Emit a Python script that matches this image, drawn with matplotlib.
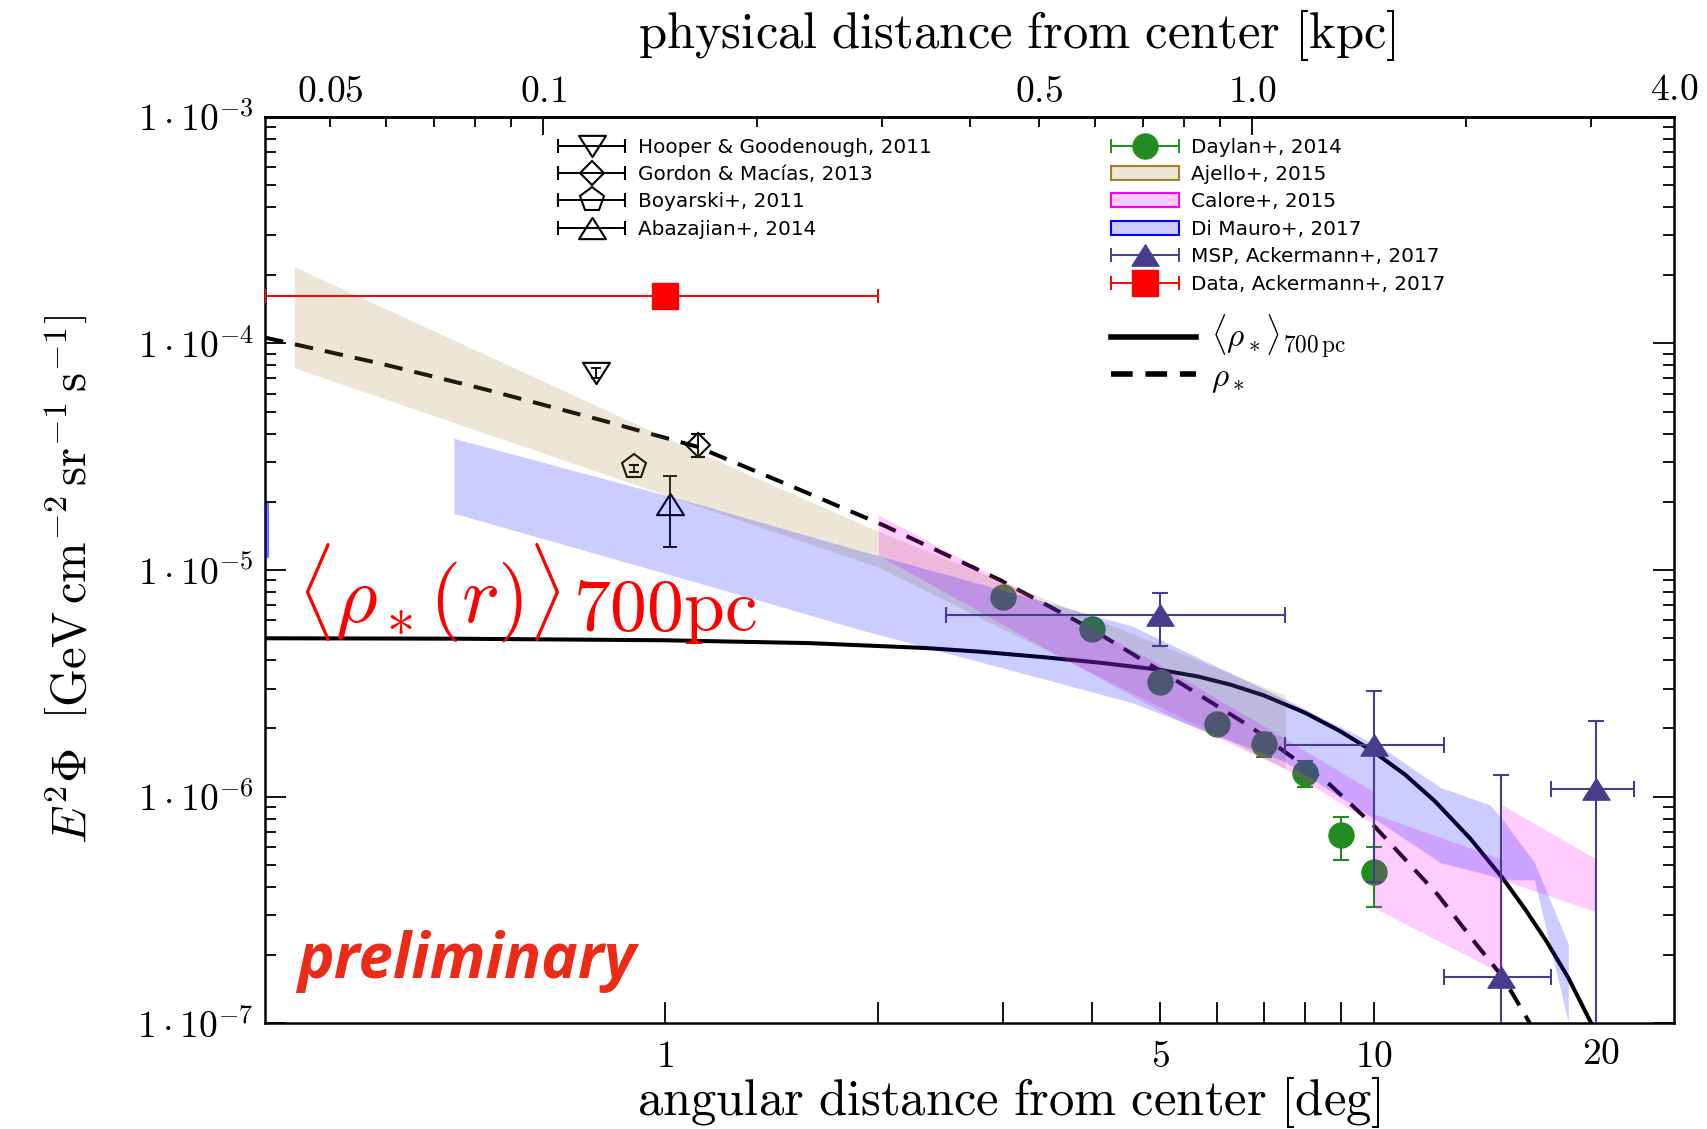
import numpy as np
import matplotlib
matplotlib.use("Agg")
import matplotlib.pyplot as plt
import matplotlib.transforms as mtransforms
from matplotlib.path import Path
from matplotlib.patches import Patch
from matplotlib.lines import Line2D
from matplotlib.container import ErrorbarContainer
from matplotlib.legend_handler import HandlerErrorbar
from matplotlib.ticker import FixedLocator, FuncFormatter, NullFormatter, LogLocator

plt.rcParams['mathtext.fontset'] = 'cm'
plt.rcParams['font.family'] = ['DejaVu Sans']

# ---------------- data ----------------
# stellar-density template rho_* (dashed) and its 700 pc average (solid)
rho_deg = [0.273, 0.4, 0.554, 0.81, 1.11, 1.5, 2.03, 2.97, 3.98, 5.16, 6.69,
           8.67, 10.03, 12.3, 14.0, 15.2, 16.6]
rho_flux = [1.06e-4, 8.1e-5, 6.3e-5, 4.6e-5, 3.5e-5, 2.36e-5, 1.58e-5, 9.03e-6,
            5.53e-6, 3.38e-6, 2.04e-6, 1.13e-6, 7.38e-7, 3.7e-7, 2.2e-7, 1.6e-7, 1.0e-7]
avg_deg = [0.273, 0.5, 1.0, 1.6, 2.33, 2.79, 3.44, 4.11, 4.99, 5.65, 6.28, 6.99, 7.99,
           8.95, 9.99, 11.07, 12.18, 13.68, 15.16, 16.33, 17.52, 18.82, 20.26]
avg_flux = [5.0e-6, 4.98e-6, 4.9e-6, 4.76e-6, 4.53e-6, 4.36e-6, 4.12e-6, 3.9e-6, 3.63e-6,
            3.39e-6, 3.12e-6, 2.8e-6, 2.35e-6, 1.95e-6, 1.58e-6, 1.25e-6, 9.58e-7,
            6.53e-7, 4.41e-7, 3.2e-7, 2.3e-7, 1.58e-7, 1.0e-7]

# Ajello+ 2015 band
aj_deg = [0.30, 1.08, 2.0, 7.5]
aj_hi = [2.18e-4, 3.45e-5, 1.48e-5, 2.8e-6]
aj_lo = [7.8e-5, 1.98e-5, 1.03e-5, 1.33e-6]

# Calore+ 2015 band
cal_deg = [2.0, 3.45, 5.0, 7.5, 10.0, 10.0, 15.16, 15.16, 20.6]
cal_hi = [1.75e-5, 7.1e-6, 3.8e-6, 1.8e-6, 1.05e-6, 8.4e-7, 5.3e-7, 9.2e-7, 5.3e-7]
cal_lo = [1.165e-5, 4.5e-6, 2.38e-6, 1.33e-6, 7.57e-7, 3.24e-7, 1.66e-7, 4.3e-7, 3.1e-7]

# Di Mauro+ 2017 band
dm_deg = [0.504, 1.085, 1.88, 4.56, 7.48, 10.29, 12.4, 14.58, 15.16, 16.84, 18.8]
dm_hi = [3.81e-5, 2.0e-5, 1.22e-5, 5.66e-6, 2.7e-6, 1.64e-6, 1.1e-6, 9.2e-7, 8.0e-7,
         5.13e-7, 2.24e-7]
dm_lo = [1.78e-5, 9.0e-6, 5.47e-6, 2.6e-6, 1.43e-6, 7.57e-7, 5.13e-7, 4.5e-7, 4.3e-7,
         4.3e-7, 1.01e-7]
dm_edge_deg = [0.265, 0.2765]
dm_edge_hi = [1.97e-5, 1.97e-5]
dm_edge_lo = [1.13e-5, 1.13e-5]

# Daylan+ 2014
day_deg = [3, 4, 5, 6, 7, 8, 9, 10]
day_flux = [7.57e-6, 5.52e-6, 3.22e-6, 2.09e-6, 1.71e-6, 1.27e-6, 6.76e-7, 4.65e-7]
day_lo = [7.1e-6, 5.2e-6, 3.0e-6, 1.9e-6, 1.5e-6, 1.1e-6, 5.26e-7, 3.27e-7]
day_hi = [8.0e-6, 5.85e-6, 3.45e-6, 2.3e-6, 1.91e-6, 1.44e-6, 8.18e-7, 6.01e-7]

# MSP, Ackermann+ 2017
msp_deg = [5.0, 10.0, 15.1, 20.6]
msp_deg_lo = [2.49, 7.5, 12.56, 17.8]
msp_deg_hi = [7.48, 12.56, 17.8, 23.3]
msp_flux = [6.34e-6, 1.69e-6, 1.61e-7, 1.08e-6]
msp_lo = [4.61e-6, 4.19e-7, 1.0e-9, 1.0e-9]
msp_hi = [7.92e-6, 2.94e-6, 1.25e-6, 2.16e-6]

# Data, Ackermann+ 2017
data_deg = [1.0]
data_deg_lo = [0.273]
data_deg_hi = [2.0]
data_flux = [1.62e-4]

# earlier analyses
hooper_deg, hooper_flux, hooper_lo, hooper_hi = [0.80], [7.41e-5], [7.0e-5], [7.76e-5]
gordon_deg, gordon_flux, gordon_lo, gordon_hi = [1.112], [3.56e-5], [3.16e-5], [3.97e-5]
boy_deg, boy_flux, boy_lo, boy_hi = [0.906], [2.84e-5], [2.7e-5], [2.92e-5]
aba_deg, aba_flux, aba_lo, aba_hi = [1.017], [1.96e-5], [1.26e-5], [2.60e-5]

x_ticks = [1, 2, 3, 4, 5, 6, 7, 8, 9, 10]
x_ticklabels = {1: '1', 5: '5', 10: '10'}
kpc_major = [0.1, 1.0]
kpc_minor = [0.05, 0.06, 0.07, 0.08, 0.09, 0.2, 0.3, 0.4, 0.5, 0.6, 0.7, 0.8, 0.9, 2.0, 3.0]
kpc_minor_labels = {0.05: '0.05', 0.5: '0.5'}

R_SUN = 8.5  # kpc


def deg2kpc(d):
    return np.radians(d) * R_SUN


def kpc2deg(r):
    return np.degrees(np.asarray(r) / R_SUN)


def asym(v, lo, hi):
    v = np.asarray(v)
    return [v - np.asarray(lo), np.asarray(hi) - v]


# wide triangle markers
tri_up = Path([(0, 0.79), (-1, -0.79), (1, -0.79), (0, 0.79)],
              [Path.MOVETO, Path.LINETO, Path.LINETO, Path.CLOSEPOLY])
tri_dn = Path([(0, -0.79), (-1, 0.79), (1, 0.79), (0, -0.79)],
              [Path.MOVETO, Path.LINETO, Path.LINETO, Path.CLOSEPOLY])

MSP_C = '#483d8b'
TAN = '#9e8533'
TICK_FS = 27

fig = plt.figure(figsize=(17.08, 11.29), dpi=100)
ax = fig.add_axes([0.1552, 0.0935, 0.8249, 0.8032])
ax.set_xscale('log')
ax.set_yscale('log')
ax.set_xlim(0.273, 26.5)
ax.set_ylim(1e-7, 1e-3)

# template curves
ax.plot(avg_deg, avg_flux, color='k', lw=2.9, zorder=1.5, solid_joinstyle='round')
ax.plot(rho_deg, rho_flux, color='k', lw=2.9, dashes=(4.6, 3.0), zorder=1.5)

# point measurements lying under the bands
ax.errorbar(day_deg, day_flux, yerr=asym(day_flux, day_lo, day_hi), fmt='o',
            color='forestgreen', ms=18, capsize=5.5, elinewidth=1.5, capthick=1.5, zorder=2)
open_kw = dict(mfc='none', mec='k', mew=1.5, color='k', elinewidth=1.3, capthick=1.3, zorder=2)
ax.errorbar(hooper_deg, hooper_flux, yerr=asym(hooper_flux, hooper_lo, hooper_hi),
            fmt='none', ecolor='k', capsize=3.5, elinewidth=1.3, capthick=1.3, zorder=2)
ax.plot(hooper_deg, hooper_flux, ls='none', marker=tri_dn, ms=19.4, mfc='none', mec='k',
        mew=1.5, zorder=2)
ax.errorbar(gordon_deg, gordon_flux, yerr=asym(gordon_flux, gordon_lo, gordon_hi),
            fmt='D', ms=12.5, capsize=4.8, **open_kw)
ax.errorbar(boy_deg, boy_flux, yerr=asym(boy_flux, boy_lo, boy_hi),
            fmt='p', ms=18.2, capsize=3.5, **open_kw)
ax.errorbar(aba_deg, aba_flux, yerr=asym(aba_flux, aba_lo, aba_hi),
            fmt='none', ecolor='k', capsize=5.3, elinewidth=1.3, capthick=1.3, zorder=2)
ax.plot(aba_deg, aba_flux, ls='none', marker=tri_up, ms=19.4, mfc='none', mec='k',
        mew=1.5, zorder=2)

# bands
ax.fill_between(aj_deg, aj_lo, aj_hi, color=TAN, alpha=0.2, lw=0, zorder=3)
ax.fill_between(cal_deg, cal_lo, cal_hi, color='magenta', alpha=0.2, lw=0, zorder=3)
ax.fill_between(dm_deg, dm_lo, dm_hi, color='blue', alpha=0.2, lw=0, zorder=3)
ax.fill_between(dm_edge_deg, dm_edge_lo, dm_edge_hi, color='blue', alpha=0.55, lw=0, zorder=3)

# Fermi-LAT points on top
ax.errorbar(msp_deg, msp_flux,
            xerr=asym(msp_deg, msp_deg_lo, msp_deg_hi), yerr=asym(msp_flux, msp_lo, msp_hi),
            fmt='none', ecolor=MSP_C, capsize=5.5, elinewidth=1.5, capthick=1.5, zorder=4)
ax.plot(msp_deg, msp_flux, ls='none', marker=tri_up, ms=19.4, color=MSP_C, zorder=4.1)
ax.errorbar(data_deg, data_flux, xerr=asym(data_deg, data_deg_lo, data_deg_hi), fmt='s',
            color='red', ms=18.5, capsize=5, elinewidth=1.4, capthick=1.4, zorder=4)

# ---------------- axes styling ----------------
for s in ax.spines.values():
    s.set_linewidth(1.8)
ax.xaxis.set_major_locator(FixedLocator(x_ticks))
ax.xaxis.set_major_formatter(FuncFormatter(
    lambda v, p: r'$%s$' % x_ticklabels[int(round(v))] if int(round(v)) in x_ticklabels else ''))
ax.xaxis.set_minor_locator(FixedLocator([]))
ax.yaxis.set_major_locator(LogLocator(base=10, numticks=10))
ax.yaxis.set_minor_locator(LogLocator(base=10, subs=np.arange(2, 10), numticks=20))
ax.yaxis.set_major_formatter(FuncFormatter(lambda v, p: r'$1\cdot10^{%d}$' % int(round(np.log10(v)))))
ax.yaxis.set_minor_formatter(NullFormatter())
ax.tick_params(axis='both', which='both', direction='in', top=False, right=True, width=1.3)
ax.tick_params(axis='x', which='major', length=15, pad=11, labelsize=TICK_FS)
ax.tick_params(axis='y', which='major', length=15, pad=8, labelsize=TICK_FS)
ax.tick_params(axis='y', which='minor', length=8)

trans = mtransforms.blended_transform_factory(ax.transData, ax.transAxes)
ax.text(20.9, -0.034, r'$20$', transform=trans, ha='center', va='center', fontsize=TICK_FS)

secax = ax.secondary_xaxis('top', functions=(deg2kpc, kpc2deg))
secax.set_xticks(kpc_major)
secax.set_xticklabels([r'$0.1$', r'$1.0$'])
secax.xaxis.set_minor_locator(FixedLocator(kpc_minor))
secax.xaxis.set_minor_formatter(FuncFormatter(
    lambda v, p: next((r'$%s$' % t for k, t in kpc_minor_labels.items() if abs(v - k) < 1e-6), '')))
secax.tick_params(axis='x', which='major', direction='in', length=13, width=1.3, pad=5,
                  labelsize=TICK_FS)
secax.tick_params(axis='x', which='minor', direction='in', length=7, width=1.3, pad=5,
                  labelsize=TICK_FS)
secax.spines['top'].set_linewidth(1.8)
ax.text(1.0, 1.0 + 27 / 906.8, r'$4.0$', transform=ax.transAxes, ha='center', va='center',
        fontsize=TICK_FS)

ax.set_xlabel(r'$\mathrm{angular\ distance\ from\ center\ [deg]}$', fontsize=36.5)
ax.xaxis.set_label_coords(0.528, -0.087)
ax.xaxis.label.set_verticalalignment('center')
ax.text(0.534, 1.0901, r'$\mathrm{physical\ distance\ from\ center\ [kpc]}$',
        transform=ax.transAxes, fontsize=36.5, ha='center', va='center')
ax.set_ylabel(r'$E^2\Phi\ \ \left[\mathrm{GeV\,cm^{-2}\,sr^{-1}\,s^{-1}}\right]$', fontsize=35)
ax.yaxis.set_label_coords(-0.137, 0.49)
ax.yaxis.label.set_verticalalignment('center')

# annotations
rho_txt = ax.text(0.0227, 0.4739, r'$\langle\rho_*(r)\rangle$', transform=ax.transAxes,
                  color='red', fontsize=58, ha='left', va='center')
ax.annotate(r'$\mathrm{700pc}$', xy=(1.0, 0.0), xycoords=rho_txt, xytext=(9, 11),
            textcoords='offset points', color='red', fontsize=53, ha='left', va='baseline')
ax.text(0.0227, 0.0688, 'preliminary', transform=ax.transAxes, color='#ec2a18',
        fontsize=44.5, fontfamily='Open Sans', fontweight='bold', fontstyle='italic',
        ha='left', va='center')

# ---------------- legends ----------------
def eb_proxy(**kw):
    return ax.errorbar([np.nan], [np.nan], xerr=[[1.0], [1.0]], capsize=5,
                       elinewidth=1.4, capthick=1.4, ls='none', **kw)


p_hooper = eb_proxy(marker=tri_dn, ms=19.4, mfc='none', mec='k', mew=1.5, color='k')
p_gordon = eb_proxy(marker='D', ms=12.5, mfc='none', mec='k', mew=1.5, color='k')
p_boy = eb_proxy(marker='p', ms=18.2, mfc='none', mec='k', mew=1.5, color='k')
p_aba = eb_proxy(marker=tri_up, ms=19.4, mfc='none', mec='k', mew=1.5, color='k')
p_day = eb_proxy(marker='o', ms=18, color='forestgreen')
p_msp = eb_proxy(marker=tri_up, ms=19.4, color=MSP_C)
p_data = eb_proxy(marker='s', ms=18.5, color='red')
p_aj = Patch(facecolor=(0.62, 0.52, 0.2, 0.2), edgecolor='#a0822d', lw=1.5)
p_cal = Patch(facecolor=(1, 0, 1, 0.2), edgecolor='magenta', lw=1.5)
p_dm = Patch(facecolor=(0, 0, 1, 0.2), edgecolor='blue', lw=1.5)

hmap = {ErrorbarContainer: HandlerErrorbar(xerr_size=1.69, numpoints=1)}
common = dict(loc='upper left', frameon=False, fontsize=14.4, handlelength=3.39,
              handletextpad=0.6, labelspacing=0.42, borderpad=0, borderaxespad=0,
              handler_map=hmap, numpoints=1)
leg1 = ax.legend([p_hooper, p_gordon, p_boy, p_aba],
                 ['Hooper & Goodenough, 2011', 'Gordon & Macías, 2013',
                  'Boyarski+, 2011', 'Abazajian+, 2014'],
                 bbox_to_anchor=(0.2077, 0.9768), **common)
ax.add_artist(leg1)
leg2 = ax.legend([p_day, p_aj, p_cal, p_dm, p_msp, p_data],
                 ['Daylan+, 2014', 'Ajello+, 2015', 'Calore+, 2015', 'Di Mauro+, 2017',
                  'MSP, Ackermann+, 2017', 'Data, Ackermann+, 2017'],
                 bbox_to_anchor=(0.6004, 0.9768), **common)
ax.add_artist(leg2)
l_avg = Line2D([], [], color='k', lw=4)
l_rho = Line2D([], [], color='k', lw=4, dashes=(3.9, 2.3))
leg3 = ax.legend([l_avg, l_rho],
                 [r'$\langle\rho_*\rangle_{700\,\mathrm{pc}}$', r'$\rho_*$'],
                 loc='upper left', bbox_to_anchor=(0.6004, 0.783), frameon=False,
                 fontsize=24, handlelength=2.55, handletextpad=0.45, labelspacing=-0.05,
                 borderpad=0, borderaxespad=0)

fig.savefig('out.png', dpi=100)
